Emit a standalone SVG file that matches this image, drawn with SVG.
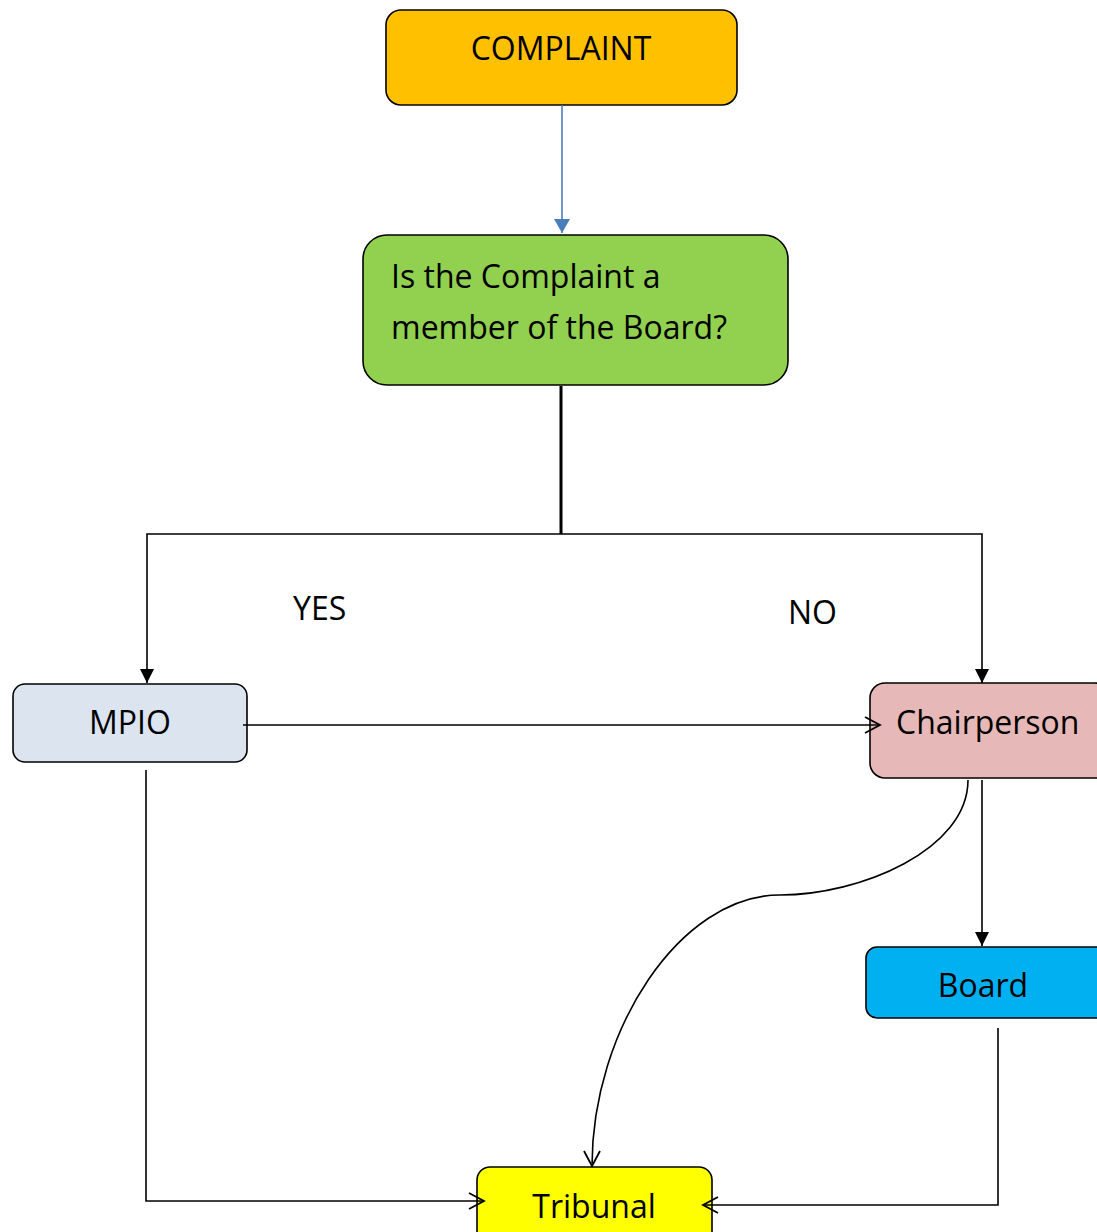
<svg xmlns="http://www.w3.org/2000/svg" width="1097" height="1232" viewBox="0 0 1097 1232">
<defs>
<style>
.node{stroke:#000;stroke-width:1.6}
.t{font-family:"Open Sans","Liberation Sans",sans-serif;font-size:32px;fill:#000}
.c{text-anchor:middle}
.ln{fill:none;stroke:#000;stroke-width:1.6}
</style>
<marker id="fill" viewBox="0 0 14 14" refX="14" refY="7" markerWidth="14" markerHeight="14" markerUnits="userSpaceOnUse" orient="auto">
<path d="M0,0 L14,7 L0,14 Z" fill="#000"/>
</marker>
<marker id="fillb" viewBox="0 0 14 16" refX="14" refY="8" markerWidth="14" markerHeight="16" markerUnits="userSpaceOnUse" orient="auto">
<path d="M0,0 L14,8 L0,16 Z" fill="#4A7EBB"/>
</marker>
<marker id="open" viewBox="0 0 18 20" refX="17" refY="10" markerWidth="18" markerHeight="20" markerUnits="userSpaceOnUse" orient="auto" overflow="visible">
<path d="M2,2 L17,10 L2,18" fill="none" stroke="#000" stroke-width="1.8"/>
</marker>
</defs>
<rect width="1097" height="1232" fill="#fff"/>
<g id="complaint">
<rect class="node" x="386" y="10" width="351" height="95" rx="15" fill="#FFC000"/>
<text class="t c" x="561" y="60">COMPLAINT</text>
</g>
<g id="question">
<rect class="node" x="363" y="235" width="425" height="150" rx="24" fill="#92D050"/>
<text class="t" x="391" y="288">Is the Complaint a</text>
<text class="t" x="391" y="339">member of the Board?</text>
</g>
<g id="yes"><text class="t" x="293" y="620">YES</text></g>
<g id="no"><text class="t" x="788" y="624">NO</text></g>
<g id="mpio">
<rect class="node" x="13" y="684" width="234" height="78" rx="12" fill="#DCE4F0"/>
<text class="t c" x="130" y="734">MPIO</text>
</g>
<g id="chairperson">
<rect class="node" x="870" y="683" width="240" height="95" rx="15" fill="#E6B8B7"/>
<text class="t" x="896" y="734">Chairperson</text>
</g>
<g id="board">
<rect class="node" x="866" y="947" width="244" height="71" rx="11" fill="#00B0F0"/>
<text class="t c" x="983" y="997">Board</text>
</g>
<g id="tribunal">
<rect class="node" x="477" y="1167" width="235" height="80" rx="13" fill="#FFFF00"/>
<text class="t c" x="594" y="1218">Tribunal</text>
</g>
<g id="connectors">
<line x1="562" y1="105" x2="562" y2="233" stroke="#4A7EBB" stroke-width="1.6" marker-end="url(#fillb)"/>
<line x1="561" y1="386" x2="561" y2="534" stroke="#000" stroke-width="3"/>
<polyline class="ln" points="147,682 147,534 982,534 982,682"/>
<line x1="147" y1="670" x2="147" y2="683" stroke="#000" stroke-width="1.6" marker-end="url(#fill)"/>
<line x1="982" y1="670" x2="982" y2="683" stroke="#000" stroke-width="1.6" marker-end="url(#fill)"/>
<line class="ln" x1="243" y1="725" x2="880" y2="725" marker-end="url(#open)"/>
<path class="ln" d="M968,780 C968,850 860,895 780,895 C680,895 592,1030 592,1166" marker-end="url(#open)"/>
<line class="ln" x1="982" y1="780" x2="982" y2="946" marker-end="url(#fill)"/>
<polyline class="ln" points="998,1028 998,1205 703,1205" marker-end="url(#open)"/>
<polyline class="ln" points="146,770 146,1201 484,1201" marker-end="url(#open)"/>
</g>
</svg>
